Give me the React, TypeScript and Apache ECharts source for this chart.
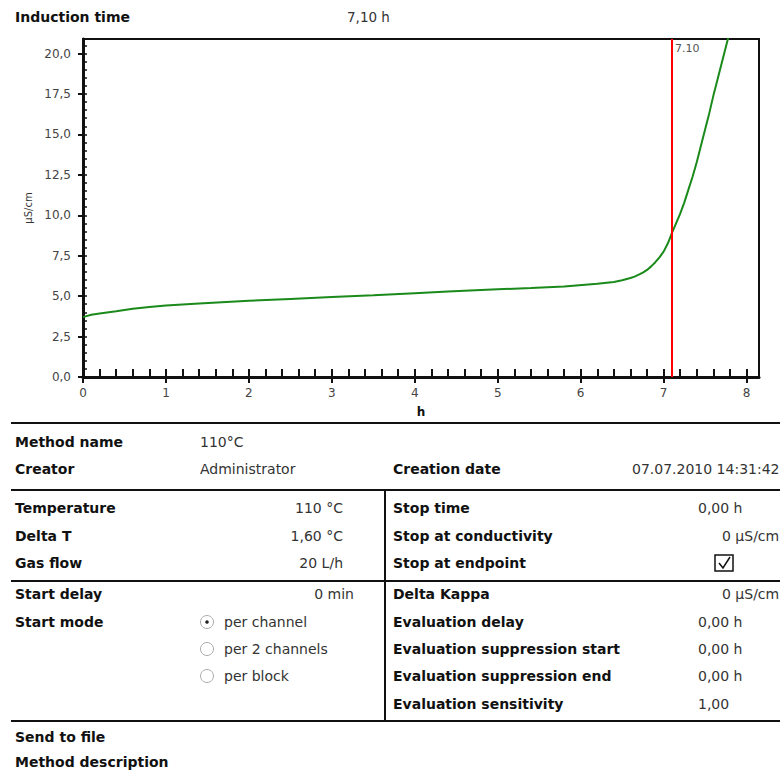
import React, { useEffect, useRef } from "react";
import * as echarts from "echarts";

// ---- data ----
const hours = [0, 0.1, 0.2, 0.4, 0.6, 0.8, 1.0, 1.4, 2.0, 2.5, 3.0, 3.5, 4.0, 4.4, 5.0, 5.4, 5.8, 6.2, 6.4, 6.5, 6.6, 6.65, 6.7, 6.75, 6.8, 6.85, 6.9, 6.95, 7.0, 7.05, 7.1, 7.15, 7.2, 7.25, 7.3, 7.35, 7.4, 7.45, 7.5, 7.55, 7.6, 7.65, 7.7, 7.78];
const conductivity = [3.7, 3.85, 3.93, 4.07, 4.22, 4.33, 4.42, 4.55, 4.71, 4.83, 4.94, 5.05, 5.18, 5.28, 5.42, 5.5, 5.6, 5.76, 5.88, 5.98, 6.12, 6.21, 6.33, 6.46, 6.62, 6.84, 7.1, 7.4, 7.75, 8.25, 8.9, 9.5, 10.1, 10.8, 11.6, 12.4, 13.3, 14.3, 15.3, 16.3, 17.4, 18.4, 19.4, 21.0];
const inductionTime = 7.1;
const xTickValues = [0, 1, 2, 3, 4, 5, 6, 7, 8];
const yTickValues = [0, 2.5, 5, 7.5, 10, 12.5, 15, 17.5, 20];
const X_MAX = 8.15;
const Y_MAX = 20.9;

const headerLabel = "Induction time";
const headerValue = "7,10 h";

const leftRows = [
  { label: "Method name", value: "110°C", y: 442, vx: 200, align: "left" },
  { label: "Creator", value: "Administrator", y: 469, vx: 200, align: "left" },
  { label: "Temperature", value: "110 °C", y: 508, vx: 343, align: "right" },
  { label: "Delta T", value: "1,60 °C", y: 536, vx: 343, align: "right" },
  { label: "Gas flow", value: "20 L/h", y: 563, vx: 343, align: "right" },
  { label: "Start delay", value: "0 min", y: 594, vx: 354, align: "right" },
  { label: "Start mode", value: "", y: 622, vx: 0, align: "left" },
  { label: "Send to file", value: "", y: 737, vx: 0, align: "left" },
  { label: "Method description", value: "", y: 762, vx: 0, align: "left" },
];
const startModes = ["per channel", "per 2 channels", "per block"];
const startModeY = [622, 649, 676];

const rightRows = [
  { label: "Creation date", value: "07.07.2010 14:31:42", y: 469, vx: 632 },
  { label: "Stop time", value: "0,00 h", y: 508, vx: 698 },
  { label: "Stop at conductivity", value: "0 µS/cm", y: 536, vx: 722 },
  { label: "Stop at endpoint", value: "", y: 563, vx: 0 },
  { label: "Delta Kappa", value: "0 µS/cm", y: 594, vx: 722 },
  { label: "Evaluation delay", value: "0,00 h", y: 622, vx: 698 },
  { label: "Evaluation suppression start", value: "0,00 h", y: 649, vx: 698 },
  { label: "Evaluation suppression end", value: "0,00 h", y: 676, vx: 698 },
  { label: "Evaluation sensitivity", value: "1,00", y: 704, vx: 698 },
];

const FONT = '"DejaVu Sans", "Liberation Sans", sans-serif';

function txt(text: string, x: number, y: number, bold: boolean, align = "left", size?: number, color?: string) {
  const fs = size ?? 14;
  return {
    type: "text",
    x,
    y,
    silent: true,
    style: {
      text,
      font: `${bold ? "bold " : ""}${fs}px ${FONT}`,
      fill: color ?? (bold ? "#111" : "#333"),
      textAlign: align,
      align,
      textVerticalAlign: "middle",
      verticalAlign: "middle",
    },
  };
}

function hline(y: number, x1: number, x2: number) {
  return { type: "line", silent: true, shape: { x1, y1: y, x2, y2: y }, style: { stroke: "#111", lineWidth: 2 } };
}

export default function App() {
  const ref = useRef<HTMLDivElement>(null);
  useEffect(() => {
    if (!ref.current) return;
    const chart = echarts.init(ref.current, null, { renderer: "svg" });
    const data = hours.map((h, i) => [h, conductivity[i]]);
    const fmtY = (v: number) => v.toFixed(1).replace(".", ",");
    chart.setOption({
      animation: false,
      backgroundColor: "#fff",
      textStyle: { fontFamily: FONT },
      grid: { left: 83, top: 39, width: 676, height: 338, show: true, borderColor: "#111", borderWidth: 2, backgroundColor: "transparent" },
      xAxis: [
        {
          type: "value",
          min: 0,
          max: X_MAX,
          position: "bottom",
          axisLine: { show: true, lineStyle: { color: "#111", width: 3 } },
          axisTick: { show: true, inside: false, length: 6, customValues: xTickValues, lineStyle: { color: "#111", width: 2 } },
          axisLabel: { show: true, customValues: xTickValues, margin: 10, color: "#444", fontSize: 12, fontFamily: FONT },
          splitLine: { show: false },
          name: "h",
          nameLocation: "middle",
          nameGap: 29,
          nameTextStyle: { color: "#111", fontWeight: "bold", fontSize: 12, fontFamily: FONT },
        },
        {
          type: "value",
          min: 0,
          max: X_MAX,
          interval: 0.2,
          position: "bottom",
          axisLine: { show: false },
          axisTick: { show: true, inside: true, length: 8, lineStyle: { color: "#111", width: 2 } },
          axisLabel: { show: false },
          splitLine: { show: false },
        },
      ],
      yAxis: [
        {
          type: "value",
          min: 0,
          max: Y_MAX,
          position: "left",
          axisLine: { show: true, lineStyle: { color: "#111", width: 3 } },
          axisTick: { show: true, inside: false, length: 5, customValues: yTickValues, lineStyle: { color: "#111", width: 2 } },
          axisLabel: { show: true, customValues: yTickValues, margin: 12, color: "#444", fontSize: 12, fontFamily: FONT, formatter: fmtY },
          splitLine: { show: false },
          name: "µS/cm",
          nameLocation: "middle",
          nameGap: 50,
          nameTextStyle: { color: "#333", fontSize: 10, fontFamily: FONT },
        },
        {
          type: "value",
          min: 0,
          max: Y_MAX,
          interval: 0.5,
          position: "left",
          axisLine: { show: false },
          axisTick: { show: true, inside: true, length: 4, lineStyle: { color: "#111", width: 1.5 } },
          axisLabel: { show: false },
          splitLine: { show: false },
        },
      ],
      series: [
        {
          type: "line",
          xAxisIndex: 0,
          yAxisIndex: 0,
          data,
          showSymbol: false,
          symbol: "none",
          clip: true,
          lineStyle: { color: "#1a8a1a", width: 2 },
          markLine: {
            silent: true,
            symbol: "none",
            label: { show: false },
            lineStyle: { color: "#ff0000", width: 2, type: "solid" },
            data: [{ xAxis: inductionTime }],
          },
        },
      ],
    });

    const px = chart.convertToPixel({ xAxisIndex: 0 }, inductionTime) as number;
    const graphics: any[] = [];
    graphics.push(txt(headerLabel, 15, 17, true));
    graphics.push(txt(headerValue, 347, 17, false, "left", 13.5));
    graphics.push(txt(inductionTime.toFixed(2), px + 3, 48, false, "left", 11, "#555"));

    graphics.push(hline(423, 11, 780));
    graphics.push(hline(490, 11, 780));
    graphics.push(hline(581, 11, 780));
    graphics.push(hline(721, 11, 780));
    graphics.push({ type: "line", silent: true, shape: { x1: 385, y1: 490, x2: 385, y2: 721 }, style: { stroke: "#111", lineWidth: 2 } });

    leftRows.forEach((r) => {
      graphics.push(txt(r.label, 15, r.y, true));
      if (r.value) graphics.push(txt(r.value, r.vx, r.y, false, r.align));
    });
    startModes.forEach((m, i) => {
      const y = startModeY[i];
      graphics.push({ type: "circle", silent: true, shape: { cx: 207, cy: y, r: 6.5 }, style: { fill: "#fff", stroke: "#aaa", lineWidth: 1 } });
      if (i === 0) graphics.push({ type: "circle", silent: true, shape: { cx: 207, cy: y, r: 1.8 }, style: { fill: "#222" } });
      graphics.push(txt(m, 224, y, false));
    });
    rightRows.forEach((r) => {
      graphics.push(txt(r.label, 393, r.y, true));
      if (r.value) graphics.push(txt(r.value, r.vx, r.y, false));
    });
    // checkbox for "Stop at endpoint"
    graphics.push({ type: "rect", silent: true, shape: { x: 715, y: 555, width: 18, height: 16 }, style: { fill: "#fff", stroke: "#111", lineWidth: 1.5 } });
    graphics.push({ type: "polyline", silent: true, shape: { points: [[719, 563], [723, 568], [730, 557]] }, style: { stroke: "#111", lineWidth: 1.5, fill: "none" } });

    chart.setOption({ graphic: graphics });
    return () => chart.dispose();
  }, []);
  return <div ref={ref} style={{ position: "absolute", left: 0, top: 0, width: 780, height: 771, background: "#fff" }} />;
}
